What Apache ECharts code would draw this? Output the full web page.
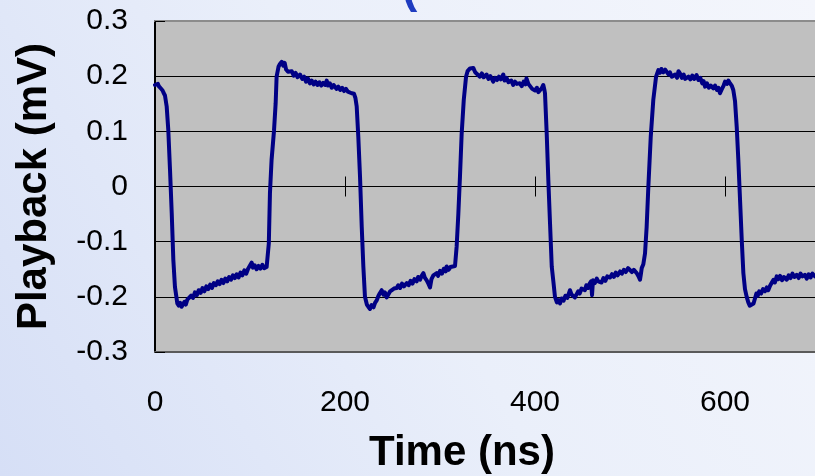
<!DOCTYPE html>
<html>
<head>
<meta charset="utf-8">
<title>Playback waveform</title>
<script src="https://cdn.jsdelivr.net/npm/echarts@6/dist/echarts.min.js"></script>
<style>
  html, body { margin: 0; padding: 0; overflow: hidden; }
  #chart { width: 815px; height: 476px; }
</style>
</head>
<body>
<div id="chart"></div>
<script>
// Playback signal, [time (ns), amplitude (mV)], split by transition
const traceA = [
  [0, 0.184], [1, 0.187], [2, 0.181], [3, 0.186], [4, 0.182], [5, 0.185], [6, 0.178], [7, 0.181],
  [8, 0.174], [9, 0.170], [10.5, 0.165], [12.3, 0.145], [14, 0.102], [15.8, 0.030], [17.6, -0.048],
  [19.3, -0.133], [21, -0.182], [23.5, -0.212], [25, -0.216], [26.5, -0.211], [28, -0.218],
  [29.5, -0.213], [31, -0.209], [32.5, -0.214], [34, -0.205], [36, -0.208], [38, -0.198],
  [40, -0.202], [42, -0.192], [44, -0.197], [46, -0.188], [48, -0.193], [50, -0.184], [52, -0.190],
  [54, -0.181], [56, -0.186], [58, -0.178], [60, -0.184], [62, -0.175], [64, -0.179], [66, -0.172],
  [68, -0.177], [70, -0.169], [72, -0.175], [74, -0.167], [76, -0.172], [78, -0.164], [80, -0.169],
  [82, -0.161], [84, -0.166], [86, -0.159], [88, -0.165], [90, -0.156], [92, -0.161], [94, -0.152],
  [96, -0.158], [98, -0.149], [100, -0.146], [101.8, -0.138], [103, -0.147], [105, -0.143],
  [107, -0.150], [109, -0.144], [111, -0.149], [113, -0.142], [115, -0.148], [117.5, -0.146],
  [119, -0.145]
];
const traceB = [
  [119.8, -0.103], [121, -0.012], [122.7, 0.048], [125.3, 0.102], [127, 0.151], [128, 0.199],
  [130, 0.217], [131.5, 0.222], [133.4, 0.226], [135, 0.219], [136.5, 0.224], [138, 0.212],
  [140, 0.208], [142, 0.205], [144, 0.209], [146, 0.201], [148, 0.206], [150, 0.198], [152.6, 0.203],
  [155, 0.195], [157, 0.199], [159, 0.190], [161, 0.196], [163, 0.187], [165, 0.192], [167, 0.185],
  [169, 0.190], [171, 0.184], [173, 0.189], [175, 0.183], [177, 0.188], [179, 0.184], [180.7, 0.192],
  [182, 0.183], [184, 0.187], [186, 0.179], [188, 0.184], [191, 0.177], [193, 0.181], [195, 0.175],
  [197, 0.179], [199, 0.173], [201, 0.177], [203, 0.172], [205, 0.174], [207, 0.169], [209.5, 0.168],
  [211, 0.160], [212.3, 0.145], [214, 0.090], [215.8, 0.018]
];
const traceC = [
  [217.6, -0.073], [219.3, -0.145], [221, -0.200], [223, -0.214], [224.5, -0.218], [226.3, -0.222],
  [228, -0.215], [230, -0.219], [231.6, -0.211], [233.5, -0.206], [235, -0.199], [236.5, -0.194],
  [238.6, -0.188], [240.5, -0.196], [242, -0.192], [243.8, -0.201], [245.6, -0.198], [247.5, -0.190],
  [249.5, -0.193], [251.5, -0.185], [254.4, -0.184], [256, -0.179], [258, -0.184], [260, -0.176],
  [262, -0.181], [265, -0.175], [267, -0.179], [269, -0.171], [271, -0.176], [273, -0.168],
  [275.4, -0.172], [277, -0.164], [279, -0.169], [281, -0.161], [282.5, -0.157], [284, -0.165],
  [286, -0.170], [288, -0.177], [289.5, -0.183], [291, -0.168], [293, -0.161], [296.5, -0.157],
  [298, -0.162], [300, -0.153], [302, -0.158], [304, -0.149], [306, -0.154], [307, -0.145],
  [309, -0.151], [311, -0.146], [313, -0.149], [315.8, -0.144]
];
const traceD = [
  [317.5, -0.109], [319.3, -0.049], [321, 0.018], [322.8, 0.096], [325, 0.157], [327.4, 0.199],
  [329, 0.209], [331.6, 0.214], [333, 0.211], [335, 0.215], [337, 0.207], [339, 0.210], [342, 0.199],
  [344, 0.205], [346, 0.198], [349, 0.203], [351, 0.195], [353, 0.200], [356, 0.190], [358, 0.197],
  [360, 0.193], [362, 0.199], [364, 0.194], [366.6, 0.203], [368, 0.192], [370, 0.197], [372, 0.189],
  [373.7, 0.186], [375, 0.192], [377, 0.184], [379, 0.190], [381, 0.186], [384, 0.187], [386, 0.182],
  [388, 0.190], [390, 0.185], [391, 0.196], [393, 0.186], [395, 0.183], [397, 0.177], [398, 0.178],
  [400, 0.174], [402, 0.179], [403.5, 0.171], [405, 0.172], [407, 0.178], [408.7, 0.184],
  [410, 0.174], [410.5, 0.169]
];
const traceE = [
  [412.3, 0.096], [414, 0.012], [415.8, -0.067], [417.6, -0.145], [419.3, -0.172], [421, -0.200],
  [423, -0.210], [424.5, -0.206], [426.3, -0.212], [428, -0.203], [430, -0.207], [432, -0.198],
  [434, -0.202], [436.8, -0.188], [438.5, -0.196], [440, -0.193], [442, -0.201], [443.9, -0.198],
  [445.5, -0.190], [447, -0.194], [449, -0.185], [450.8, -0.182], [452.5, -0.188], [454, -0.179],
  [456, -0.184], [457.5, -0.176], [459, -0.172], [460, -0.197], [461, -0.170], [463, -0.175],
  [465, -0.167], [466.5, -0.172], [468.4, -0.169], [470, -0.174], [472, -0.166], [474, -0.171],
  [476, -0.163], [479, -0.165], [481, -0.159], [483, -0.164], [485, -0.156], [487, -0.161],
  [489.5, -0.154], [491.5, -0.158], [493.5, -0.151], [495.5, -0.155], [498, -0.148], [500, -0.150],
  [502, -0.155], [504, -0.151], [507, -0.157], [509, -0.163], [510.5, -0.169], [511.5, -0.158],
  [512.3, -0.148], [514, -0.141]
];
const traceF = [
  [515.8, -0.121], [517.5, -0.073], [519.3, 0.000], [521.8, 0.090], [524.5, 0.157], [527.4, 0.199],
  [529.8, 0.211], [531.5, 0.206], [533, 0.213], [535, 0.207], [537, 0.212], [538.6, 0.209],
  [540.5, 0.203], [542, 0.207], [544, 0.199], [545.6, 0.196], [547.5, 0.203], [549.5, 0.197],
  [551, 0.209], [552.6, 0.205], [554.5, 0.197], [556.5, 0.203], [558, 0.195], [559.6, 0.192],
  [561.5, 0.199], [563.5, 0.194], [565.5, 0.201], [567.5, 0.195], [570, 0.202], [572, 0.193],
  [574, 0.197], [576, 0.187], [577.5, 0.191], [579, 0.181], [581, 0.187], [583, 0.179], [585, 0.183],
  [587.7, 0.178], [589.5, 0.183], [591.5, 0.175], [593, 0.179], [594.7, 0.169], [596.5, 0.176],
  [598.5, 0.183], [600, 0.190], [602, 0.186], [603.5, 0.192], [605, 0.188], [607, 0.183],
  [608.7, 0.175]
];
const traceG = [
  [610.5, 0.155], [612.3, 0.108], [614, 0.048], [615.8, -0.024], [617.6, -0.097], [619.3, -0.157],
  [621, -0.186], [622.8, -0.200], [624.5, -0.210], [626, -0.216], [628, -0.218], [630, -0.212],
  [631.5, -0.203], [633, -0.194], [634.5, -0.198], [636, -0.190], [638, -0.194], [640, -0.186],
  [642, -0.190], [644, -0.183], [645.5, -0.188], [647.4, -0.180], [649, -0.175], [651, -0.169],
  [652.5, -0.174], [654.4, -0.163], [656, -0.168], [658, -0.162], [660, -0.170], [662, -0.164],
  [665, -0.169], [667, -0.161], [669, -0.166], [671, -0.158], [673, -0.164], [675.5, -0.160],
  [677.5, -0.166], [679.5, -0.158], [681.5, -0.163], [684, -0.160], [686, -0.167], [688, -0.159],
  [690, -0.165], [692, -0.158], [694.7, -0.163]
];

// Axis ranges and tick steps
const timeRange = [0, 694.7];
const timeStep = 200;
const mvRange = [-0.3, 0.3];
const mvStep = 0.1;

const xLabel = 'Time (ns)';
const yLabel = 'Playback (mV)';

const signal = [].concat(traceA, traceB, traceC, traceD, traceE, traceF, traceG);

const FONT = 'Liberation Sans, Arial, sans-serif';

const chart = echarts.init(document.getElementById('chart'), null, { renderer: 'canvas' });

// shared settings for the helper x axes that only draw lines/ticks
function plainX(extra) {
  return Object.assign({
    type: 'value', gridIndex: 0,
    min: timeRange[0], max: timeRange[1], interval: timeStep,
    axisLabel: { show: false }, splitLine: { show: false },
    axisTick: { show: false }, axisLine: { show: false }
  }, extra);
}

chart.setOption({
  animation: false,
  backgroundColor: new echarts.graphic.LinearGradient(0, 1, 1, 0, [
    { offset: 0, color: '#d6dff6' },
    { offset: 0.5, color: '#eaeffa' },
    { offset: 1, color: '#f4f6fc' }
  ]),
  title: {
    text: '(',
    left: 397, top: -39,
    textStyle: { color: '#1f3cc0', fontSize: 46, fontWeight: 'bold', fontFamily: FONT }
  },
  grid: {
    left: 155, right: 0, top: 21, bottom: 124,
    show: true, backgroundColor: '#c0c0c0', borderWidth: 0,
    outerBoundsMode: 'none'
  },
  xAxis: [
    // labelled axis along the bottom edge
    {
      type: 'value', gridIndex: 0,
      min: timeRange[0], max: timeRange[1], interval: timeStep,
      position: 'bottom',
      axisLine: { show: true, onZero: false, lineStyle: { color: '#5a5a5a', width: 2 } },
      axisTick: { show: false },
      splitLine: { show: false },
      axisLabel: {
        show: true, margin: 36, fontSize: 30, color: '#000', fontFamily: FONT,
        showMaxLabel: false,
        formatter: v => (v % timeStep === 0 ? String(v) : '')
      },
      name: xLabel, nameLocation: 'middle', nameGap: 80,
      nameTextStyle: { fontSize: 42, fontWeight: 'bold', color: '#000', fontFamily: FONT, padding: [0, 46, 0, 0] }
    },
    // top edge of the plot area
    plainX({ position: 'top', axisLine: { show: true, onZero: false, lineStyle: { color: '#8c8c8c', width: 2 } } }),
    // zero line with downward ticks
    plainX({
      position: 'bottom',
      axisLine: { show: true, onZero: true, onZeroAxisIndex: 0, lineStyle: { color: '#000', width: 1 } },
      axisTick: { show: true, length: 10, lineStyle: { color: '#000', width: 1 } }
    }),
    // zero line upward ticks
    plainX({
      position: 'top',
      axisLine: { show: false, onZero: true, onZeroAxisIndex: 0 },
      axisTick: { show: true, length: 10, lineStyle: { color: '#000', width: 1 } }
    })
  ],
  yAxis: {
    type: 'value', min: mvRange[0], max: mvRange[1], interval: mvStep,
    axisLine: { show: true, onZero: false, lineStyle: { color: '#000', width: 2 } },
    axisTick: { show: true, inside: true, length: 10, lineStyle: { color: '#000' } },
    splitLine: { show: true, lineStyle: { color: '#000', width: 1 } },
    axisLabel: {
      margin: 27, fontSize: 30, color: '#000', fontFamily: FONT,
      formatter: v => String(Math.round(v * 10) / 10)
    },
    name: yLabel, nameLocation: 'middle', nameGap: 100, nameRotate: 90,
    nameTextStyle: { fontSize: 42, fontWeight: 'bold', color: '#000', fontFamily: FONT }
  },
  series: [{
    type: 'line',
    xAxisIndex: 0, yAxisIndex: 0,
    data: signal,
    showSymbol: false,
    symbol: 'none',
    lineStyle: { color: '#000085', width: 4, join: 'round', cap: 'round' },
    z: 5
  }]
});
</script>
</body>
</html>
